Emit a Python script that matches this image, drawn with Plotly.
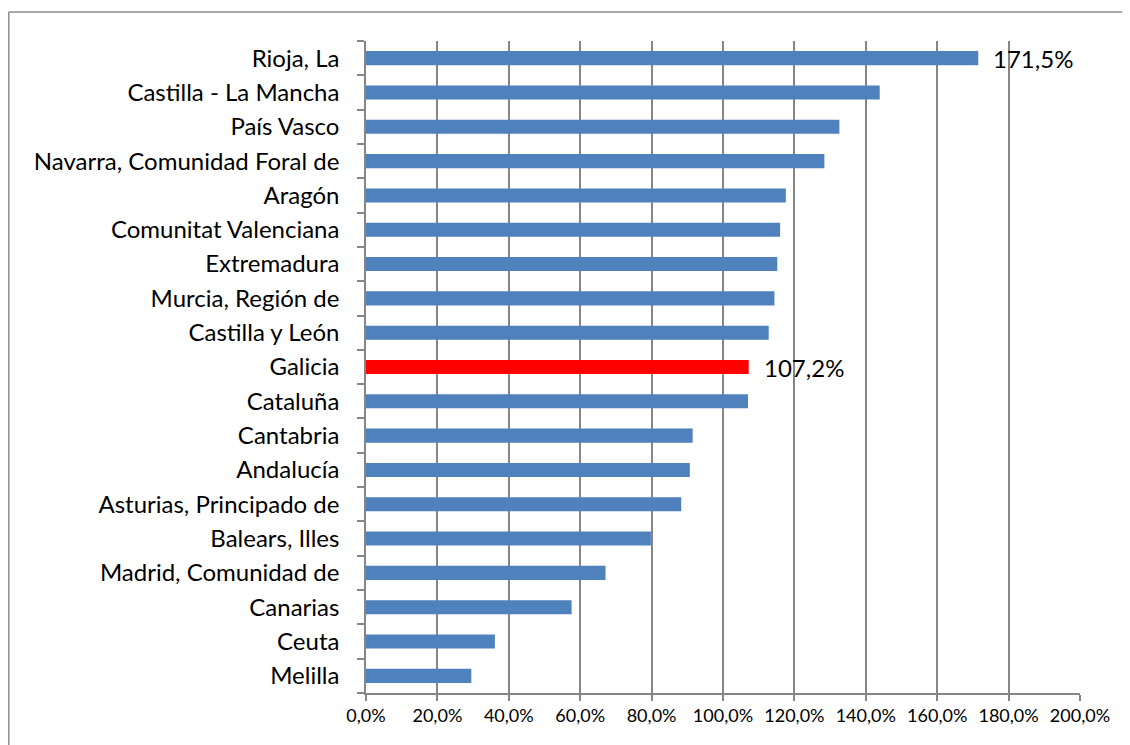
import plotly.graph_objects as go

regions = ["Rioja, La", "Castilla - La Mancha", "País Vasco", "Navarra, Comunidad Foral de",
           "Aragón", "Comunitat Valenciana", "Extremadura", "Murcia, Región de",
           "Castilla y León", "Galicia", "Cataluña", "Cantabria", "Andalucía",
           "Asturias, Principado de", "Balears, Illes", "Madrid, Comunidad de",
           "Canarias", "Ceuta", "Melilla"]
values = [171.5, 143.9, 132.6, 128.4, 117.6, 116.0, 115.2, 114.4, 112.8, 107.2,
          107.0, 91.5, 90.7, 88.3, 79.8, 67.1, 57.6, 36.1, 29.5]
labelled = {"Rioja, La": "171,5%", "Galicia": "107,2%"}
highlight = "Galicia"
tick_vals = [0, 20, 40, 60, 80, 100, 120, 140, 160, 180, 200]
tick_text = [f"{v:.1f}%".replace(".", ",") for v in tick_vals]

BLUE = "#4f81bd"
RED = "#ff0000"
GRID = "#868686"

# plot in bottom-to-top order
cats = regions[::-1]
vals = values[::-1]
colors = [RED if c == highlight else BLUE for c in cats]

fig = go.Figure(go.Bar(
    x=vals, y=cats, orientation="h",
    marker=dict(color=colors, line=dict(width=0)),
    hoverinfo="skip",
))

for c, v in zip(regions, values):
    if c in labelled:
        fig.add_annotation(x=v, y=c, text=labelled[c], showarrow=False,
                           xanchor="left", xshift=13,
                           font=dict(family="Lato", size=24, color="#000000"))

# page has an 8px body margin; figure coordinates are offset accordingly
W, H = 1122, 737
L, T = 358, 33
R = W - 1072
B = H - 685
pw, ph = W - L - R, H - T - B
bx0 = (0.8 - L) / pw
bx1 = (1140 - L) / pw
by0 = (H - B - 760) / ph
by1 = (H - B - 4) / ph
border = dict(color="#8c8c8c", width=1.5)
fig.add_shape(type="line", xref="paper", yref="paper",
              x0=bx0, x1=bx1, y0=by1, y1=by1, line=border, layer="below")
fig.add_shape(type="line", xref="paper", yref="paper",
              x0=bx0, x1=bx0, y0=by0, y1=by1, line=border, layer="below")

fig.update_layout(
    width=W, height=H,
    margin=dict(l=L, r=R, t=T, b=B, autoexpand=False),
    paper_bgcolor="white", plot_bgcolor="white",
    bargap=0.59,
    showlegend=False,
    font=dict(family="Lato", color="#000000"),
    xaxis=dict(range=[0, 200], tickvals=tick_vals, ticktext=tick_text,
               showgrid=True, gridcolor=GRID, gridwidth=1.5,
               showline=True, linecolor=GRID, linewidth=1.5,
               ticks="outside", ticklen=6, tickcolor=GRID, tickwidth=1.5,
               tickfont=dict(family="Lato", size=18, color="#000000"),
               zeroline=False, fixedrange=True),
    yaxis=dict(type="category", categoryorder="array", categoryarray=cats,
               showgrid=False, showline=True, linecolor=GRID, linewidth=1.5,
               ticks="outside", ticklen=7, tickcolor=GRID, tickwidth=1.5,
               tickson="boundaries", ticklabelstandoff=20,
               tickfont=dict(family="Lato", size=24, color="#000000"),
               fixedrange=True),
)

fig.write_html("out.html")
